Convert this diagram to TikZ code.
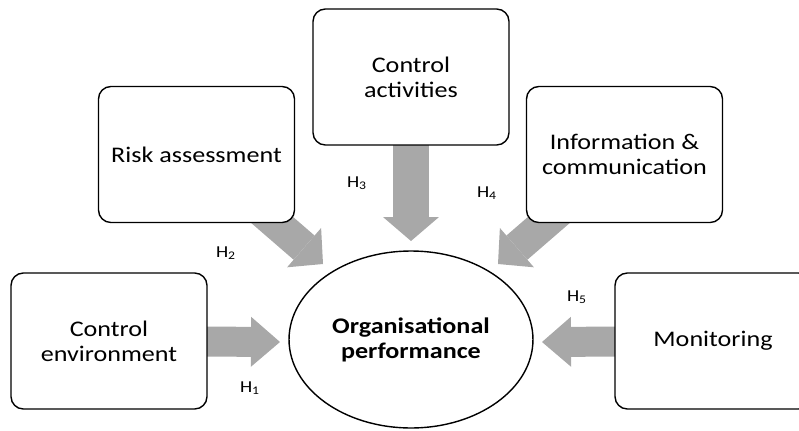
\documentclass[tikz,border=0pt]{standalone}
\usepackage{fontspec}
\setmainfont{Carlito}[FakeStretch=1.17]
\usetikzlibrary{arrows.meta, shapes.geometric, backgrounds}
\definecolor{arrow_gray}{RGB}{168, 168, 168}
\newcommand{\Hyp}[1]{H\textsubscript{#1}}

\begin{document}
\begin{tikzpicture}[
    x=0.02cm, y=-0.02cm,
    factor/.style={
        rectangle,
        draw=black,
        fill=white,
        thick,
        minimum width=3.92cm,
        minimum height=2.72cm,
        align=center,
        rounded corners=7pt,
        font=\fontsize{12.7}{14.2}\selectfont
    },
    outcome/.style={
        ellipse,
        draw=black,
        fill=white,
        thick,
        minimum width=4.88cm,
        minimum height=3.54cm,
        align=center,
        font=\fontsize{12.7}{14.2}\selectfont\bfseries
    },
    hyp/.style={
        inner sep=1pt,
        font=\fontsize{9.5}{11}\selectfont
    },
    bigarrow/.style n args={3}{
        draw=arrow_gray,
        line width=#1,
        -{Triangle[length=#2 0 0, width=#3 0 0, line width=0pt 0 0]}
    }
]

\useasboundingbox (0,0) rectangle (799,430);
\clip (0,0) rectangle (799,430);

\node[outcome] (perf) at (411,339.5) {Organisational\\performance};

\node[factor] (env) at (109,341) {Control\\environment};
\node[factor] (risk) at (196.5,154.5) {Risk assessment};
\node[factor] (act) at (411,77) {Control\\activities};
\node[factor] (info) at (624.5,154.5) {Information \&\\communication};
\node[factor] (mon) at (713,341) {Monitoring};

% arrow tips
\coordinate (tip1) at (280,342);
\coordinate (tip2) at (323,264);
\coordinate (tip3) at (411,241);
\coordinate (tip4) at (498,264);
\coordinate (tip5) at (542,342);

\begin{scope}[on background layer]
\draw[bigarrow={0.6cm}{0.58cm}{1cm}] (env.center) -- (tip1);
\draw[bigarrow={0.64cm}{0.5cm}{1.04cm}] (risk.center) -- (tip2);
\draw[bigarrow={0.72cm}{0.48cm}{1.12cm}] (act.center) -- (tip3);
\draw[bigarrow={0.64cm}{0.5cm}{1.04cm}] (info.center) -- (tip4);
\draw[bigarrow={0.6cm}{0.58cm}{1cm}] (mon.center) -- (tip5);
\end{scope}

\node[hyp] (h1) at (250,388) {\Hyp{1}};
\node[hyp] (h2) at (226,253) {\Hyp{2}};
\node[hyp] (h3) at (357,183) {\Hyp{3}};
\node[hyp] (h4) at (487,193) {\Hyp{4}};
\node[hyp] (h5) at (577,297) {\Hyp{5}};

\end{tikzpicture}
\end{document}
